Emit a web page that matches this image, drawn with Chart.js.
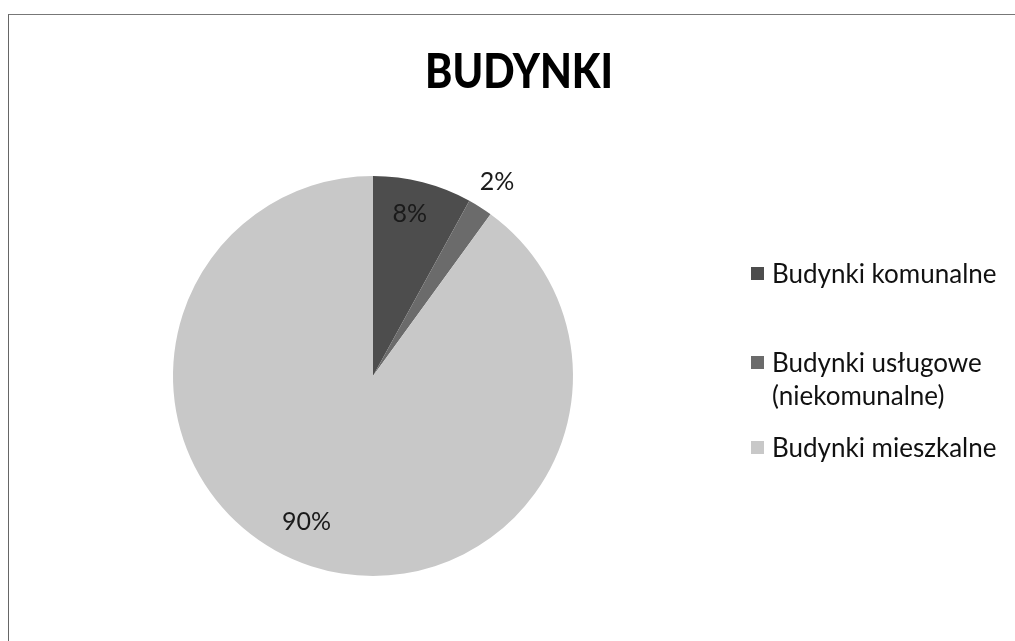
<!DOCTYPE html>
<html>
<head>
    <meta charset="utf-8">
    <title>BUDYNKI</title>
    <style>
        body {
            margin: 0;
            background-color: #fff;
            font-family: Lato, "Open Sans", sans-serif;
        }

        #wrap {
            position: relative;
            width: 1015px;
            height: 641px;
            overflow: hidden;
        }

        #frame {
            position: absolute;
            left: 8px;
            top: 14px;
            width: 1010px;
            height: 640px;
            border-left: 1px solid #666;
            border-top: 1px solid #777;
        }

        #legend {
            position: absolute;
            left: 751px;
            top: 257px;
            width: 262px;
            color: #111;
            font-size: 26px;
            line-height: 33px;
        }

        .item {
            display: flex;
            align-items: flex-start;
        }

        .item .box {
            flex: 0 0 13px;
            height: 13px;
            margin-top: 10px;
            margin-right: 8px;
        }

        .item .txt {
            width: 240px;
        }
    </style>
    <script src="https://cdn.jsdelivr.net/npm/chart.js"></script>
</head>
<body>
    <div id="wrap">
        <div id="frame"></div>
        <canvas id="chart" width="1015" height="641"></canvas>
        <div id="legend"></div>
    </div>
    <script>
        var chartTitle = 'BUDYNKI';
        var categories = ['Budynki komunalne', 'Budynki usługowe (niekomunalne)', 'Budynki mieszkalne'];
        var values = [8, 2, 90];
        var colors = ['#4d4d4d', '#6b6b6b', '#c8c8c8'];

        // gaps between legend rows (px)
        var legendGaps = [0, 56, 19];

        // label placement: fraction of radius, nudge in degrees
        var labelRadius = [0.83, 1.15, 0.8];
        var labelNudge = [-1.6, 0.2, 6.6];

        var sliceLabels = {
            id: 'sliceLabels',
            afterDatasetsDraw: function(chart) {
                var ctx = chart.ctx;
                var meta = chart.getDatasetMeta(0);
                var total = values.reduce(function(a, b) { return a + b; }, 0);
                ctx.save();
                ctx.font = '25px Lato, sans-serif';
                ctx.fillStyle = '#1a1a1a';
                ctx.textAlign = 'center';
                ctx.textBaseline = 'middle';
                meta.data.forEach(function(arc, i) {
                    var p = arc.getProps(['x', 'y', 'startAngle', 'endAngle', 'outerRadius'], true);
                    var mid = (p.startAngle + p.endAngle) / 2 + labelNudge[i] * Math.PI / 180;
                    var r = p.outerRadius * labelRadius[i];
                    var txt = Math.round(values[i] / total * 100) + '%';
                    ctx.fillText(txt, p.x + Math.cos(mid) * r, p.y + Math.sin(mid) * r);
                });
                ctx.restore();
            }
        };

        // narrow bold title, like the original Calibri
        var titlePlugin = {
            id: 'narrowTitle',
            afterDraw: function(chart) {
                var ctx = chart.ctx;
                ctx.save();
                ctx.font = '900 48px Lato, sans-serif';
                ctx.fillStyle = '#000';
                ctx.textBaseline = 'alphabetic';
                var w = ctx.measureText(chartTitle).width;
                var sx = 188 / w;
                ctx.translate(519 - 94, 88);
                ctx.scale(sx, 1);
                ctx.fillText(chartTitle, 0, 0);
                ctx.restore();
            }
        };

        new Chart(document.getElementById('chart'), {
            type: 'pie',
            data: {
                labels: categories,
                datasets: [{
                    data: values,
                    backgroundColor: colors,
                    borderWidth: 0
                }]
            },
            options: {
                responsive: false,
                animation: false,
                layout: {
                    padding: { left: 173, right: 442, top: 176, bottom: 65 }
                },
                plugins: {
                    legend: { display: false },
                    tooltip: { enabled: false }
                }
            },
            plugins: [sliceLabels, titlePlugin]
        });

        var legend = document.getElementById('legend');
        categories.forEach(function(name, i) {
            var item = document.createElement('div');
            item.className = 'item';
            item.style.marginTop = legendGaps[i] + 'px';
            item.innerHTML = '<div class="box" style="background:' + colors[i] + '"></div>' +
                             '<div class="txt">' + name + '</div>';
            legend.appendChild(item);
        });
    </script>
</body>
</html>
